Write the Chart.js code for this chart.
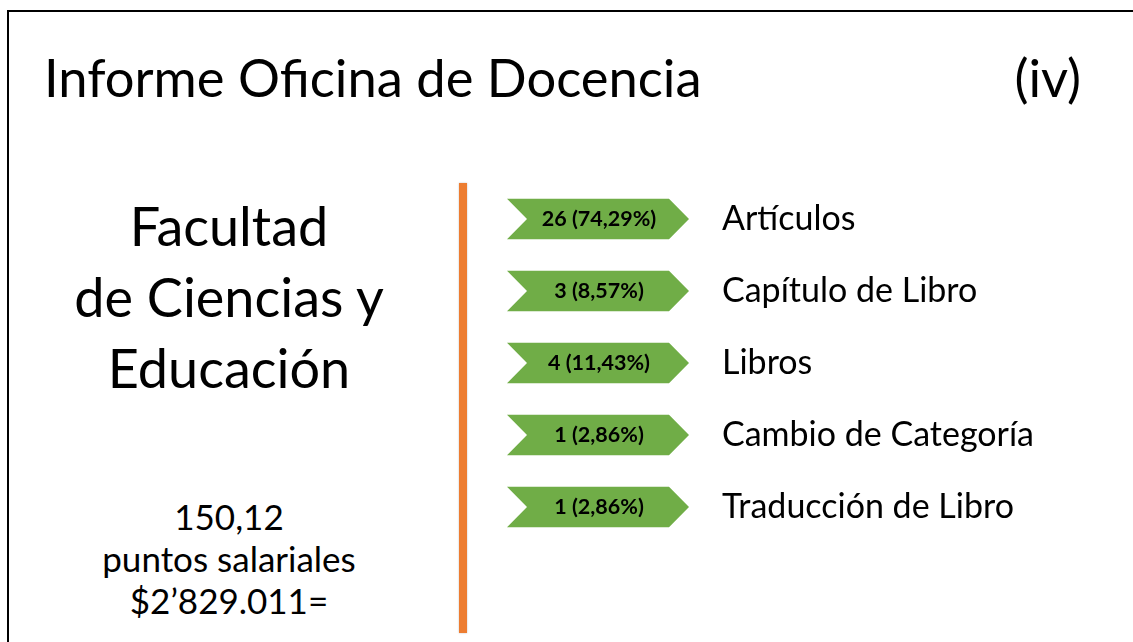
<!DOCTYPE html>
<html>
<head>
<meta charset="utf-8">
<script src="https://cdn.jsdelivr.net/npm/chart.js@4"></script>
<style>
  body { margin: 0; width: 1133px; height: 642px; overflow: hidden; background: #fff; font-family: Lato, sans-serif; }
  .frame { position: absolute; left: 7px; top: 10px; width: 1200px; height: 700px; border: 2px solid #000; box-sizing: border-box; }
  .txt { position: absolute; color: #000; white-space: nowrap; }
  #title { left: 44px; top: 45px; font-size: 52.5px; font-weight: 400; }
  #num { right: 52px; top: 45px; font-size: 52.5px; font-weight: 400; }
  #facultad { left: 29px; width: 400px; top: 190px; font-size: 54px; line-height: 71px; text-align: center; }
  #puntos { left: 29px; width: 400px; top: 495px; font-size: 35px; line-height: 42px; text-align: center; }
  .divider { position: absolute; left: 459px; top: 183px; width: 8px; height: 450px; background: #ED7D31; box-shadow: 0 0 2px #bbb; }
  #chart { position: absolute; left: 507px; top: 183px; }
</style>
</head>
<body>
<div class="frame"></div>
<div class="txt" id="title">Informe Oficina de Docencia</div>
<div class="txt" id="num">(iv)</div>
<div class="txt" id="facultad">Facultad<br>de Ciencias y<br>Educación</div>
<div class="txt" id="puntos">150,12<br>puntos salariales<br>$2’829.011=</div>
<div class="divider"></div>
<canvas id="chart" width="626" height="360"></canvas>
<script>
var categories = ['Artículos', 'Capítulo de Libro', 'Libros', 'Cambio de Categoría', 'Traducción de Libro'];
var counts = [26, 3, 4, 1, 1];
var percents = ['74,29%', '8,57%', '11,43%', '2,86%', '2,86%'];

// draws each bar as a green chevron with its count label
var chevronPlugin = {
    id: 'chevrons',
    afterDatasetsDraw: function(chart) {
        var ctx = chart.ctx;
        var area = chart.chartArea;
        var meta = chart.getDatasetMeta(0);
        meta.data.forEach(function(bar, i) {
            var top = bar.y - bar.height / 2;
            var bottom = bar.y + bar.height / 2;
            var left = area.left;
            var right = area.right;
            var notch = 20;
            ctx.save();
            ctx.beginPath();
            ctx.moveTo(left, top);
            ctx.lineTo(right - notch, top);
            ctx.lineTo(right, bar.y);
            ctx.lineTo(right - notch, bottom);
            ctx.lineTo(left, bottom);
            ctx.lineTo(left + notch, bar.y);
            ctx.closePath();
            ctx.fillStyle = '#70AD47';
            ctx.fill();
            ctx.fillStyle = '#000';
            ctx.font = 'bold 21.5px Lato';
            ctx.textAlign = 'center';
            ctx.textBaseline = 'middle';
            ctx.fillText(counts[i] + ' (' + percents[i] + ')', (left + right) / 2 + 1, bar.y);
            ctx.restore();
        });
    }
};

var ctx = document.getElementById('chart').getContext('2d');

var chart = new Chart(ctx, {
    type: 'bar',
    data: {
        labels: categories,
        datasets: [{
            data: counts,
            backgroundColor: 'rgba(0,0,0,0)',
            barPercentage: 1,
            categoryPercentage: 0.56
        }]
    },
    options: {
        indexAxis: 'y',
        responsive: false,
        animation: false,
        layout: { padding: 0 },
        plugins: {
            legend: { display: false },
            tooltip: { enabled: false }
        },
        scales: {
            x: { display: false, min: 0, max: 26 },
            y: {
                position: 'right',
                grid: { display: false, drawTicks: false },
                border: { display: false },
                ticks: {
                    color: '#000',
                    padding: 33,
                    font: { family: 'Lato', size: 34 }
                },
                afterFit: function(scale) {
                    scale.width = 626 - 182;
                    scale.paddingTop = 0;
                    scale.paddingBottom = 0;
                }
            }
        }
    },
    plugins: [chevronPlugin]
});
</script>
</body>
</html>
